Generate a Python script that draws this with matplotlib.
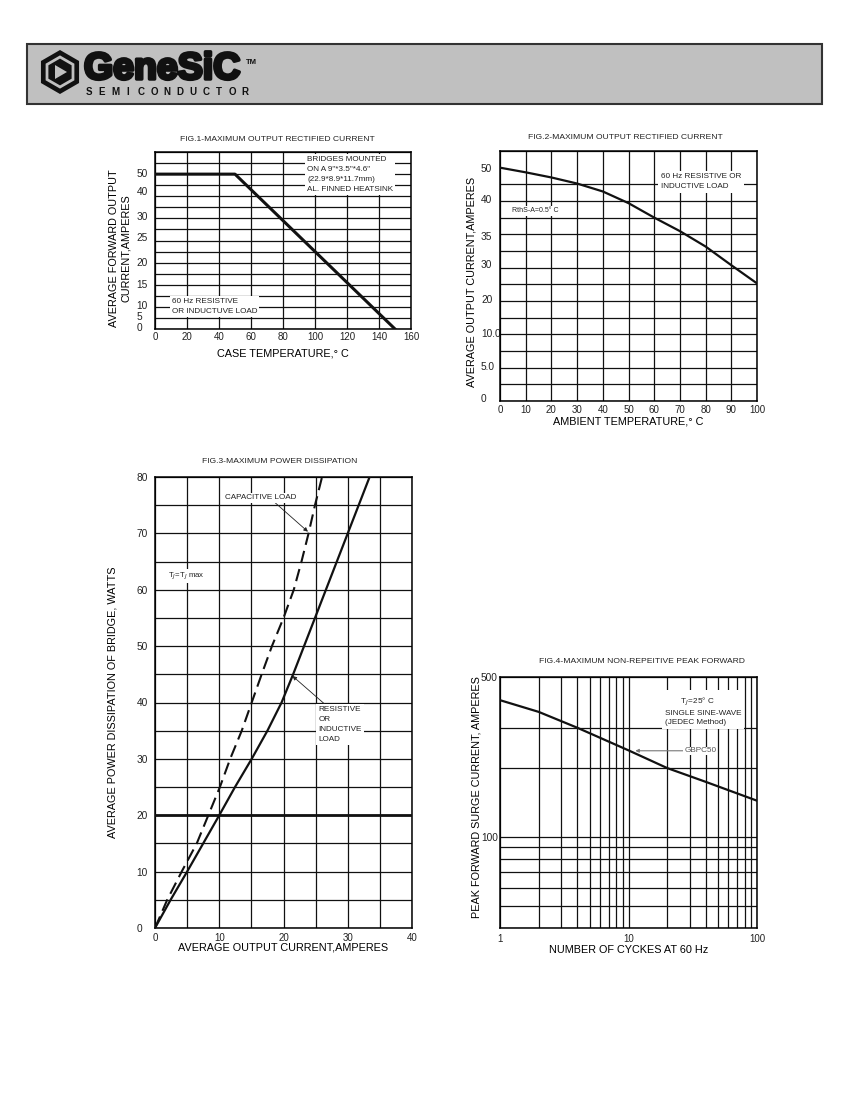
import numpy as np
import matplotlib
matplotlib.use("Agg")
import matplotlib.pyplot as plt
from matplotlib.patches import Rectangle, Polygon
from matplotlib.ticker import MultipleLocator, FixedLocator, NullFormatter
import matplotlib.patheffects as pe

plt.rcParams['font.family'] = ['Liberation Sans', 'DejaVu Sans']

W, H = 850, 1100

# ---- FIG.1 data (case temp vs current) ----
fig1_temp = [0, 50, 150]
fig1_amps = [50, 50, 0]
fig1_xticks = [0, 20, 40, 60, 80, 100, 120, 140, 160]
fig1_ylabels = ["50", "40", "30", "25", "20", "15", "10", "5", "0"]
fig1_ylevels = [14.1, 12.5, 10.2, 8.3, 6.1, 4.1, 2.2, 1.2, 0.2]   # grid rows where labels sit

# ---- FIG.2 data (ambient temp vs current) ----
fig2_temp = [0, 10, 20, 30, 40, 50, 60, 70, 80, 90, 100]
fig2_amps = [50, 49.0, 47.9, 46.6, 44.9, 42.4, 39.3, 36.4, 33.1, 29.1, 25.2]
fig2_xticks = [0, 10, 20, 30, 40, 50, 60, 70, 80, 90, 100]
fig2_ylabels = ["50", "40", "35", "30", "20", "10.0", "5.0", "0"]
fig2_ylevels = [14, 12.1, 9.9, 8.2, 6.1, 4.1, 2.1, 0.2]

# ---- FIG.3 data (power dissipation) ----
res_amps = [0, 2.43, 5, 7.5, 10, 12.45, 15.05, 17.5, 19.7, 21.5, 23.2, 24.9, 26.6, 28.3, 30, 31.7, 33.4]
res_watts = [0, 5, 10, 15, 20, 25, 30, 35, 40, 45, 50, 55, 60, 65, 70, 75, 80]
cap_amps = [0, 1.9, 4.15, 6.5, 8.3, 10.1, 11.7, 13.5, 15.05, 16.6, 18.2, 20.0, 21.6, 22.8, 23.9, 24.9, 26.0]
cap_watts = [0, 5, 10, 15, 20, 25, 30, 35, 40, 45, 50, 55, 60, 65, 70, 75, 80]
fig3_xticks = [0, 10, 20, 30, 40]
fig3_yticks = [0, 10, 20, 30, 40, 50, 60, 70, 80]
fig3_limit = 20

# ---- FIG.4 data (surge current) ----
cycles = [1, 2, 4, 10, 20, 40, 100]
surge = [396, 352, 300, 239, 200, 174, 144]
fig4_ymajor = [100, 500]
fig4_yminor = [40, 50, 60, 70, 80, 90, 200, 300]

PER_LEVEL = 50 / 14.0   # amps per grid row in fig 1 and 2


def add_ax(fig, left, top, right, bottom):
    return fig.add_axes([left / W, 1 - bottom / H, (right - left) / W, (bottom - top) / H])


def base_style(ax, ypad):
    ax.tick_params(which='both', length=0, labelsize=7, colors='#222222')
    ax.tick_params(axis='y', pad=ypad, labelsize=7.3)
    for s in ax.spines.values():
        s.set_linewidth(1.1)
    for lbl in ax.get_yticklabels():
        lbl.set_horizontalalignment('left')


def place_labels(ax, xl, yl, xpos, ypos, title, tpos):
    ax.set_xlabel(xl, fontsize=7.8)
    ax.set_ylabel(yl, fontsize=7.8)
    ax.xaxis.label.set_va('center')
    ax.yaxis.label.set_va('center')
    ax.xaxis.set_label_coords(0.5, xpos)
    ax.yaxis.set_label_coords(*ypos)
    ax.text(tpos[0], tpos[1], title, transform=ax.transAxes, ha='center', va='center',
            fontsize=6.1, color='#222222')


fig = plt.figure(figsize=(8.5, 11), dpi=100)

# ---- header band with logo ----
hdr = fig.add_axes([0, 0, 1, 1], zorder=-1)
hdr.set_xlim(0, W)
hdr.set_ylim(H, 0)
hdr.axis('off')
hdr.add_patch(Rectangle((27, 44), 795, 60, facecolor='#c0c0c0', edgecolor='#333333', lw=1.5))
ang = np.radians(90 + 60 * np.arange(6))
cx, cy = 60, 72
hdr.add_patch(Polygon(np.c_[cx + 22 * np.cos(ang), cy - 22 * np.sin(ang)], closed=True,
                      facecolor='#111111', edgecolor='none'))
hdr.add_patch(Polygon(np.c_[cx + 15 * np.cos(ang), cy - 15 * np.sin(ang)], closed=True,
                      facecolor='none', edgecolor='#c0c0c0', lw=2))
hdr.add_patch(Polygon([[cx - 5, cy - 7], [cx - 5, cy + 7], [cx + 7, cy]], closed=True,
                      facecolor='#c0c0c0', edgecolor='none'))
hdr.text(84, 69, "GeneSiC", fontsize=27, fontweight='bold', color='#111111', va='center',
         ha='left', path_effects=[pe.withStroke(linewidth=2.5, foreground='#111111')])
hdr.text(246, 62, "TM", fontsize=5.5, fontweight='bold', color='#111111', va='center')
for i, ch in enumerate("SEMICONDUCTOR"):
    hdr.text(89 + i * 13.0, 92, ch, fontsize=7, fontweight='bold', color='#111111',
             ha='center', va='center')

# ---- FIG.1 ----
ax1 = add_ax(fig, 155, 152, 411, 329)
ax1.plot(fig1_temp, fig1_amps, color='#111111', lw=2.2, zorder=3)
ax1.set_xlim(0, 160)
ax1.set_ylim(0, 16 * PER_LEVEL)
ax1.xaxis.set_major_locator(FixedLocator(fig1_xticks))
ax1.yaxis.set_major_locator(FixedLocator([v * PER_LEVEL for v in fig1_ylevels]))
ax1.yaxis.set_ticklabels(fig1_ylabels)
ax1.yaxis.set_minor_locator(MultipleLocator(PER_LEVEL))
ax1.xaxis.grid(True, which='major', color='#111111', lw=0.9)
ax1.yaxis.grid(True, which='minor', color='#111111', lw=0.9)
base_style(ax1, 13.2)
ax1.tick_params(axis='x', pad=2.5)
ax1.text(95, 15.6 * PER_LEVEL, 'BRIDGES MOUNTED\nON A 9"*3.5"*4.6"\n(22.9*8.9*11.7mm)\nAL. FINNED HEATSINK',
         fontsize=5.9, va='top', ha='left', color='#222222', linespacing=1.55,
         bbox=dict(facecolor='white', edgecolor='none', pad=1.5), zorder=4)
ax1.text(10.5, 2.8 * PER_LEVEL, '60 Hz RESISTIVE\nOR INDUCTUVE LOAD', fontsize=5.9, va='top',
         ha='left', color='#222222', linespacing=1.55,
         bbox=dict(facecolor='white', edgecolor='none', pad=1.5), zorder=4)
place_labels(ax1, "CASE TEMPERATURE,° C", "AVERAGE FORWARD OUTPUT\nCURRENT,AMPERES",
             -0.136, (-0.137, 0.458), "FIG.1-MAXIMUM OUTPUT RECTIFIED CURRENT", (0.477, 1.073))

# ---- FIG.2 ----
ax2 = add_ax(fig, 500, 151, 757, 401)
ax2.plot(fig2_temp, fig2_amps, color='#111111', lw=1.6, zorder=3)
ax2.set_xlim(0, 100)
ax2.set_ylim(0, 15 * PER_LEVEL)
ax2.xaxis.set_major_locator(FixedLocator(fig2_xticks))
ax2.yaxis.set_major_locator(FixedLocator([v * PER_LEVEL for v in fig2_ylevels]))
ax2.yaxis.set_ticklabels(fig2_ylabels)
ax2.yaxis.set_minor_locator(MultipleLocator(PER_LEVEL))
ax2.xaxis.grid(True, which='major', color='#111111', lw=0.9)
ax2.yaxis.grid(True, which='minor', color='#111111', lw=0.9)
base_style(ax2, 13.7)
ax2.tick_params(axis='x', pad=3)
ax2.text(62.5, 13.65 * PER_LEVEL, '60 Hz RESISTIVE OR\nINDUCTIVE LOAD', fontsize=5.9, va='top',
         ha='left', color='#222222', linespacing=1.45,
         bbox=dict(facecolor='white', edgecolor='none', pad=2), zorder=4)
ax2.text(4.5, 11.4 * PER_LEVEL, 'RthS-A=0.5° C', fontsize=5, va='center', ha='left',
         color='#222222', bbox=dict(facecolor='white', edgecolor='none', pad=1), zorder=4)
place_labels(ax2, "AMBIENT TEMPERATURE,° C", "AVERAGE OUTPUT CURRENT,AMPERES",
             -0.084, (-0.109, 0.476), "FIG.2-MAXIMUM OUTPUT RECTIFIED CURRENT", (0.488, 1.053))

# ---- FIG.3 ----
ax3 = add_ax(fig, 155, 477, 412, 928)
ax3.axhline(fig3_limit, color='#111111', lw=2, zorder=3)
ax3.plot(res_amps, res_watts, color='#111111', lw=1.6, zorder=3)
ax3.plot(cap_amps, cap_watts, color='#111111', lw=1.5, ls=(0, (6, 3)), zorder=3)
ax3.set_xlim(0, 40)
ax3.set_ylim(0, 80)
ax3.xaxis.set_major_locator(FixedLocator(fig3_xticks))
ax3.yaxis.set_major_locator(FixedLocator(fig3_yticks))
ax3.xaxis.set_minor_locator(MultipleLocator(5))
ax3.yaxis.set_minor_locator(MultipleLocator(5))
ax3.grid(True, which='both', color='#111111', lw=0.9)
base_style(ax3, 13.2)
ax3.tick_params(axis='x', pad=3.5)
ax3.annotate('CAPACITIVE LOAD', xy=(23.8, 70.3), xytext=(10.9, 76.3), fontsize=5.9,
             color='#222222', va='center', ha='left',
             bbox=dict(facecolor='white', edgecolor='none', pad=1),
             arrowprops=dict(arrowstyle='-|>', color='#222222', lw=0.6, mutation_scale=6,
                             shrinkA=0, shrinkB=0, relpos=(0.68, 0)), zorder=4)
ax3.text(2.0, 62.4, 'T$_J$=T$_J$ max', fontsize=5.6, va='center', ha='left', color='#222222',
         bbox=dict(facecolor='white', edgecolor='none', pad=1), zorder=4)
ax3.annotate('RESISTIVE\nOR\nINDUCTIVE\nLOAD', xy=(21.4, 44.7), xytext=(25.4, 36.1), fontsize=5.9,
             color='#222222', va='center', ha='left', linespacing=1.6,
             bbox=dict(facecolor='white', edgecolor='none', pad=1.5),
             arrowprops=dict(arrowstyle='-|>', color='#222222', lw=0.6, mutation_scale=6,
                             shrinkA=0, shrinkB=0, relpos=(0.2, 1)), zorder=4)
place_labels(ax3, "AVERAGE OUTPUT CURRENT,AMPERES", "AVERAGE POWER DISSIPATION OF BRIDGE, WATTS",
             -0.044, (-0.167, 0.5), "FIG.3-MAXIMUM POWER DISSIPATION", (0.486, 1.034))

# ---- FIG.4 ----
ax4 = add_ax(fig, 500, 677, 757, 928)
ax4.plot(cycles, surge, color='#111111', lw=1.6, zorder=3)
ax4.set_xscale('log')
ax4.set_yscale('log')
ax4.set_xlim(1, 100)
ax4.set_ylim(40, 500)
ax4.xaxis.set_major_locator(FixedLocator([1, 10, 100]))
ax4.xaxis.set_ticklabels(["1", "10", "100"])
ax4.xaxis.set_minor_locator(FixedLocator([2, 3, 4, 5, 6, 7, 8, 9, 20, 30, 40, 50, 60, 70, 80, 90]))
ax4.xaxis.set_minor_formatter(NullFormatter())
ax4.yaxis.set_major_locator(FixedLocator(fig4_ymajor))
ax4.yaxis.set_ticklabels([str(v) for v in fig4_ymajor])
ax4.yaxis.set_minor_locator(FixedLocator(fig4_yminor))
ax4.yaxis.set_minor_formatter(NullFormatter())
ax4.grid(True, which='both', color='#111111', lw=0.9)
base_style(ax4, 13.7)
ax4.tick_params(axis='x', pad=4)
ax4.text(19.3, 415, '       T$_J$=25° C\nSINGLE SINE-WAVE\n(JEDEC Method)', fontsize=5.9, va='top',
         ha='left', color='#222222', linespacing=1.45,
         bbox=dict(facecolor='white', edgecolor='none', pad=2), zorder=4)
ax4.annotate('GBPC50', xy=(11.3, 238), xytext=(27.1, 238), fontsize=5.9, color='#555555',
             va='center', ha='left', bbox=dict(facecolor='white', edgecolor='none', pad=0.5),
             arrowprops=dict(arrowstyle='-|>', color='#777777', lw=0.8, mutation_scale=5,
                             shrinkA=0, shrinkB=0, relpos=(0, 0.5)), zorder=4)
place_labels(ax4, "NUMBER OF CYCKES AT 60 Hz", "PEAK FORWARD SURGE CURRENT, AMPERES",
             -0.088, (-0.09, 0.522), "FIG.4-MAXIMUM NON-REPEITIVE PEAK FORWARD", (0.552, 1.061))

fig.savefig("out.png", dpi=100, facecolor='white')
